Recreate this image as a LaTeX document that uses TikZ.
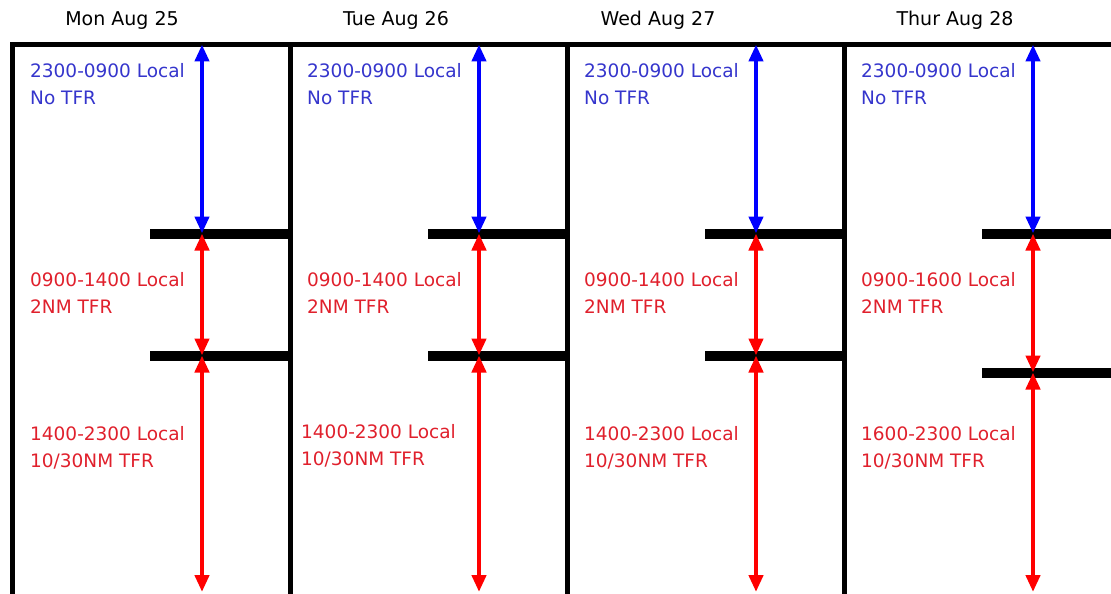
\documentclass[tikz,border=0pt]{standalone}
\usepackage{fontspec}
\setmainfont{DejaVu Sans}
\usetikzlibrary{arrows.meta}
\definecolor{notfr}{HTML}{0000FF}
\definecolor{notfrtext}{HTML}{3535CC}
\definecolor{tfr}{HTML}{FF0000}
\definecolor{tfrtext}{HTML}{E0202C}

\begin{document}
\begin{tikzpicture}[x=1pt,y=-1pt,
  frame/.style={line width=5pt},
  bar/.style={line width=10pt},
  span/.style={line width=4.5pt,{Triangle[length=17pt,width=14pt]}-{Triangle[length=17pt,width=14pt]}},
  day/.style={font=\fontsize{19}{22}\selectfont,inner sep=0pt},
  lbl/.style={anchor=west,align=left,font=\fontsize{18.5}{27}\selectfont,inner sep=0pt}]
  \useasboundingbox (0,0) rectangle (1111,594);

  % Frame
  \draw[frame] (12.5,600) |- (1116,44.5);
  \draw[frame] (290,44.5) -- (290,600);
  \draw[frame] (567,44.5) -- (567,600);
  \draw[frame] (844,44.5) -- (844,600);

  % Mon
  \node[day] (mon) at (122,20) {Mon Aug 25};
  \coordinate (mon-top) at (202,44.5);
  \coordinate (mon-a) at (202,233.5);
  \coordinate (mon-b) at (202,355.5);
  \coordinate (mon-end) at (202,592);
  \draw[bar] (150,233.5) -- (290,233.5);
  \draw[bar] (150,355.5) -- (290,355.5);
  \draw[span,notfr] (mon-top) -- (mon-a);
  \draw[span,tfr] (mon-a) -- (mon-b);
  \draw[span,tfr] (mon-b) -- (mon-end);
  \node[lbl,notfrtext] (mon-night) at (30,84.5) {2300-0900 Local\\No TFR};
  \node[lbl,tfrtext] (mon-inner) at (30,292.5) {0900-1400 Local\\2NM TFR};
  \node[lbl,tfrtext] (mon-outer) at (30,448) {1400-2300 Local\\10/30NM TFR};

  % Tue
  \node[day] (tue) at (396,20) {Tue Aug 26};
  \coordinate (tue-top) at (479,44.5);
  \coordinate (tue-a) at (479,233.5);
  \coordinate (tue-b) at (479,355.5);
  \coordinate (tue-end) at (479,592);
  \draw[bar] (428,233.5) -- (567,233.5);
  \draw[bar] (428,355.5) -- (567,355.5);
  \draw[span,notfr] (tue-top) -- (tue-a);
  \draw[span,tfr] (tue-a) -- (tue-b);
  \draw[span,tfr] (tue-b) -- (tue-end);
  \node[lbl,notfrtext] (tue-night) at (307,84.5) {2300-0900 Local\\No TFR};
  \node[lbl,tfrtext] (tue-inner) at (307,292.5) {0900-1400 Local\\2NM TFR};
  \node[lbl,tfrtext] (tue-outer) at (301,446) {1400-2300 Local\\10/30NM TFR};

  % Wed
  \node[day] (wed) at (658,20) {Wed Aug 27};
  \coordinate (wed-top) at (756,44.5);
  \coordinate (wed-a) at (756,233.5);
  \coordinate (wed-b) at (756,355.5);
  \coordinate (wed-end) at (756,592);
  \draw[bar] (705,233.5) -- (844,233.5);
  \draw[bar] (705,355.5) -- (844,355.5);
  \draw[span,notfr] (wed-top) -- (wed-a);
  \draw[span,tfr] (wed-a) -- (wed-b);
  \draw[span,tfr] (wed-b) -- (wed-end);
  \node[lbl,notfrtext] (wed-night) at (584,84.5) {2300-0900 Local\\No TFR};
  \node[lbl,tfrtext] (wed-inner) at (584,292.5) {0900-1400 Local\\2NM TFR};
  \node[lbl,tfrtext] (wed-outer) at (584,448) {1400-2300 Local\\10/30NM TFR};

  % Thur (longer 2NM window)
  \node[day] (thu) at (955,20) {Thur Aug 28};
  \coordinate (thu-top) at (1033,44.5);
  \coordinate (thu-a) at (1033,233.5);
  \coordinate (thu-b) at (1033,372.5);
  \coordinate (thu-end) at (1033,592);
  \draw[bar] (982,233.5) -- (1116,233.5);
  \draw[bar] (982,372.5) -- (1116,372.5);
  \draw[span,notfr] (thu-top) -- (thu-a);
  \draw[span,tfr] (thu-a) -- (thu-b);
  \draw[span,tfr] (thu-b) -- (thu-end);
  \node[lbl,notfrtext] (thu-night) at (861,84.5) {2300-0900 Local\\No TFR};
  \node[lbl,tfrtext] (thu-inner) at (861,292.5) {0900-1600 Local\\2NM TFR};
  \node[lbl,tfrtext] (thu-outer) at (861,448) {1600-2300 Local\\10/30NM TFR};
\end{tikzpicture}
\end{document}
